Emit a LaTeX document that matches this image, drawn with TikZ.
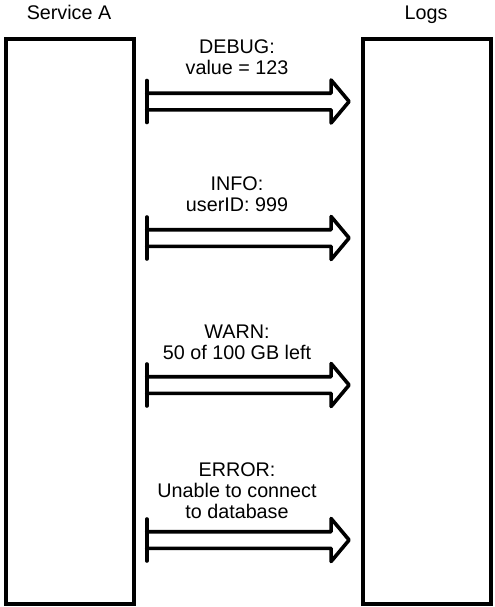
\documentclass[tikz,border=0pt]{standalone}
\usepackage{fontspec}
\setmainfont{Liberation Sans}
\usetikzlibrary{calc}

\tikzset{
  logbox/.style={draw, line width=3pt, minimum width=96pt, minimum height=423.5pt, inner sep=0pt},
  msgtext/.style={align=center, font=\fontsize{14.8}{15.75}\selectfont, inner sep=0pt, anchor=base},
  fatarrow/.style={line width=2.7pt, line cap=round, line join=round}
}

\begin{document}
\begin{tikzpicture}[x=0.75pt,y=-0.75pt]
\useasboundingbox (0,0) rectangle (494,607);
\node[logbox] (svc) at (69.9,321.4) {};
\node[logbox] (logs) at (426.8,321.4) {};
\node[msgtext] (svclbl) at (69,19) {Service A};
\node[msgtext] (logslbl) at (426,19) {Logs};
% one message per level
\foreach \nm/\yy/\ty/\msg in {dbg/101.5/74/{DEBUG:\\value = 123},
    info/238/211/{INFO:\\userID: 999},
    warn/385/359/{WARN:\\50 of 100 GB left},
    err/540/518/{ERROR:\\Unable to connect\\to database}} {
  \coordinate (\nm-from) at ($(svc.east |- 0,\yy)+(10.8,0)$);
  \coordinate (\nm-tip) at ($(logs.west |- 0,\yy)+(-11.7,0)$);
  \draw[fatarrow] ($(\nm-from)+(0,-21)$) -- ($(\nm-from)+(0,21)$);
  \draw[fatarrow] ($(\nm-from)+(0,-8.3)$) -- ($(\nm-tip)+(-18,-8.3)$) -- ++(0,-13.2)
    -- (\nm-tip) -- ++(-18,21.5) -- ++(0,-13.2) -- ($(\nm-from)+(0,8.3)$);
  \node[msgtext] (\nm-msg) at (237,\ty) {\msg};
}
\end{tikzpicture}
\end{document}
